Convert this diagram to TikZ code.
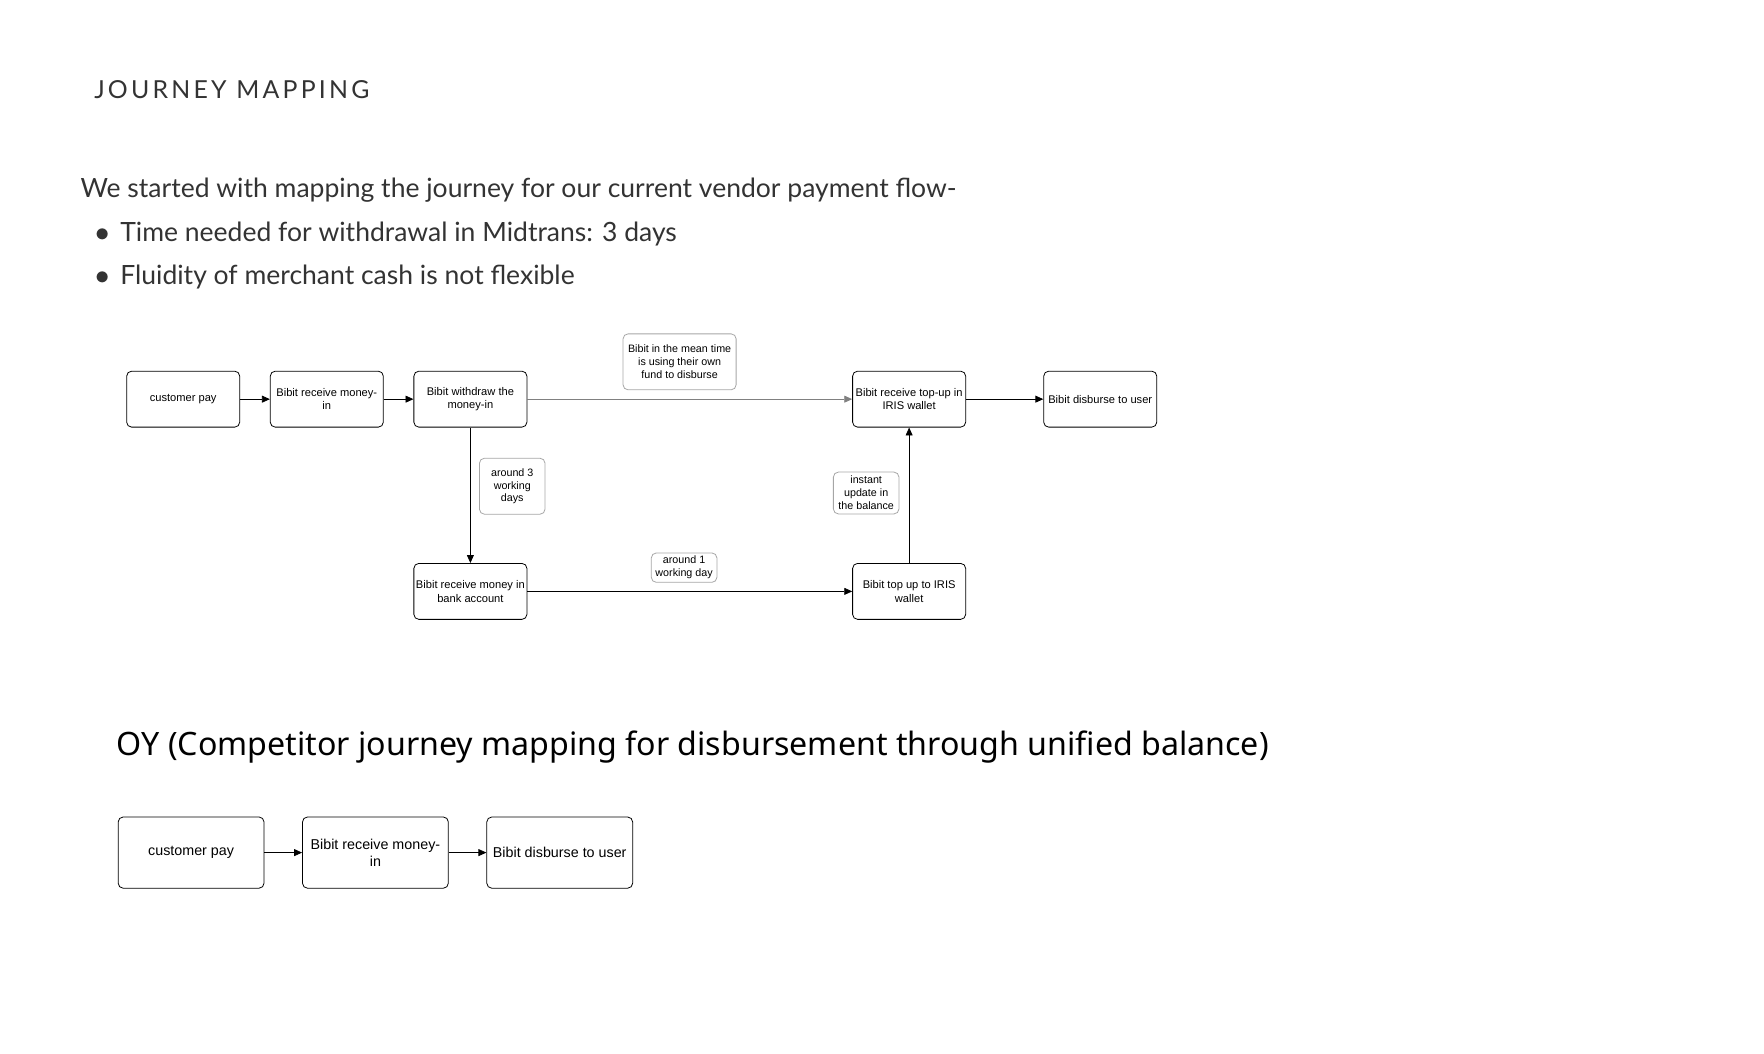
\documentclass[tikz,border=0pt]{standalone}
\usepackage{fontspec}
\setmainfont{Lato}
\newfontfamily\boxfont{Liberation Sans}
\newfontfamily\headfont{Noto Sans}
\usetikzlibrary{arrows.meta,positioning}
\tikzset{
  every picture/.style={>={Triangle[width=3.5pt,length=4pt]}},
  stage/.style={draw, rounded corners=2.5pt, minimum width=2cm, minimum height=0.99cm,
    inner sep=0.5pt, align=center, font=\boxfont\fontsize{5.6}{6.8}\selectfont},
  bigstage/.style={stage, minimum width=2.58cm, minimum height=1.26cm,
    font=\boxfont\fontsize{7.2}{8.6}\selectfont},
  note/.style={draw, gray!70, text=black, rounded corners=2.5pt, align=center, inner sep=1pt,
    font=\boxfont\fontsize{5.4}{6.5}\selectfont},
  flow/.style={->, line width=0.4pt}
}
\begin{document}
\begin{tikzpicture}[x=0.02cm,y=-0.02cm]
  \useasboundingbox (0,0) rectangle (1560,932);
  % headings
  \node[anchor=west, inner sep=0, font=\fontsize{12.5}{14}\selectfont\addfontfeature{LetterSpace=13}, text=black!80] (title) at (83,79) {JOURNEY MAPPING};
  \node[anchor=west, inner sep=0, font=\fontsize{13.35}{16}\selectfont, text=black!80] (intro) at (71,168) {We started with mapping the journey for our current vendor payment flow-};
  \node[anchor=west, inner sep=0, font=\fontsize{13.35}{16}\selectfont, text=black!80] (b1) at (84,207) {$\bullet$\hspace{0.4em}Time needed for withdrawal in Midtrans: 3 days};
  \node[anchor=west, inner sep=0, font=\fontsize{13.35}{16}\selectfont, text=black!80] (b2) at (84,245) {$\bullet$\hspace{0.4em}Fluidity of merchant cash is not flexible};
  % current flow
  \node[stage] (pay) at (162,353) {customer pay};
  \node[stage] (recv) at (289,353) {Bibit receive money-\\in};
  \node[stage] (wd) at (416,353) {Bibit withdraw the\\money-in};
  \node[stage] (topin) at (804,353) {Bibit receive top-up in\\IRIS wallet};
  \node[stage] (disb) at (973,353) {Bibit disburse to user};
  \node[stage] (bank) at (416,523) {Bibit receive money in\\bank account};
  \node[stage] (topup) at (804,523) {Bibit top up to IRIS\\wallet};
  \node[note, minimum width=2cm, minimum height=0.99cm] (n1) at (601,320) {Bibit in the mean time\\is using their own\\fund to disburse};
  \node[note, minimum width=1.16cm, minimum height=0.99cm] (n2) at (453,430) {around 3\\working\\days};
  \node[note, minimum width=1.16cm, minimum height=0.74cm] (n3) at (766,436) {instant\\update in\\the balance};
  \node[note, minimum width=1.16cm, minimum height=0.52cm] (n4) at (605,502) {around 1\\working day};
  \draw[flow] (pay) -- (recv);
  \draw[flow] (recv) -- (wd);
  \draw[flow, gray] (wd) -- (topin);
  \draw[flow] (topin) -- (disb);
  \draw[flow] (wd) -- (bank);
  \draw[flow] (bank) -- (topup);
  \draw[flow] (topup) -- (topin);
  % competitor flow
  \node[anchor=west, inner sep=0, font=\headfont\fontsize{16.2}{19}\selectfont] (oy) at (103,661) {OY (Competitor journey mapping for disbursement through unified balance)};
  \node[bigstage] (oypay) at (169,754) {customer pay};
  \node[bigstage] (oyrecv) at (332,754) {Bibit receive money-\\in};
  \node[bigstage] (oydisb) at (495,754) {Bibit disburse to user};
  \draw[flow] (oypay) -- (oyrecv);
  \draw[flow] (oyrecv) -- (oydisb);
\end{tikzpicture}
\end{document}
